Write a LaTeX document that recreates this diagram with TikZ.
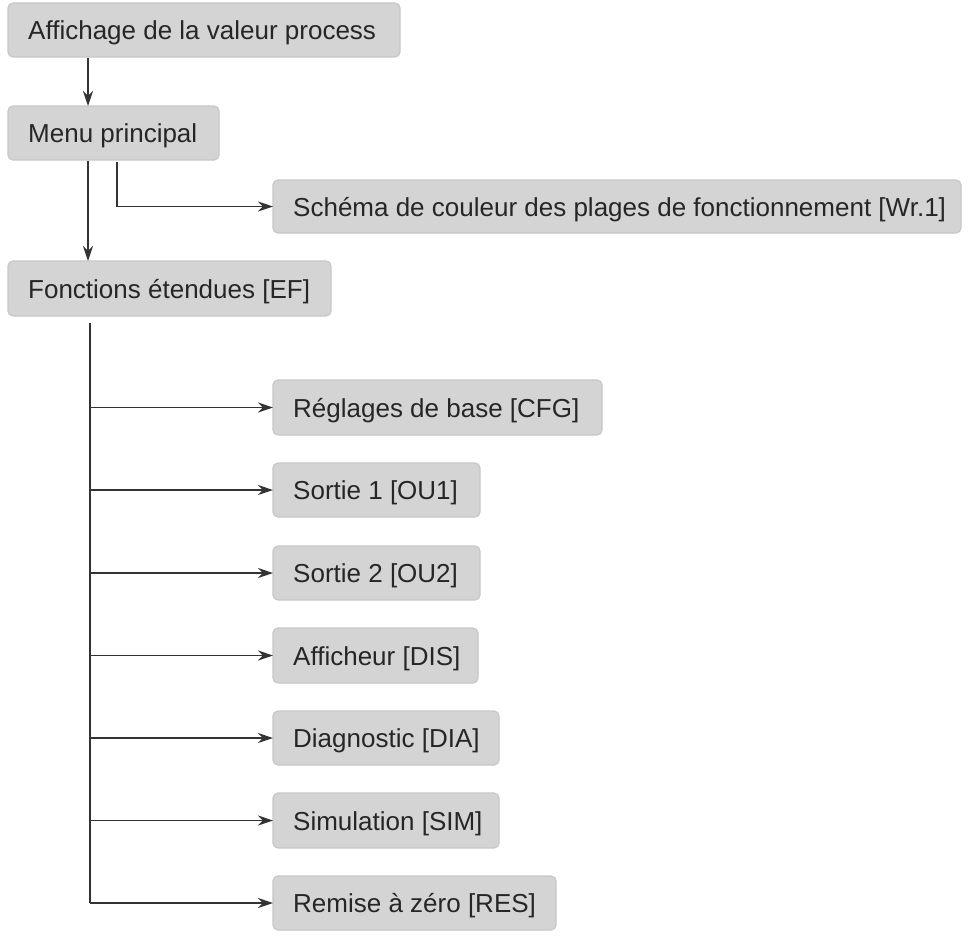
\documentclass[tikz,border=0pt]{standalone}
\usepackage{fontspec}
\setmainfont{Liberation Sans}
\usetikzlibrary{arrows.meta}
\begin{document}
\begin{tikzpicture}[x=1pt,y=-1pt,
  box/.style={draw=black!22,fill=black!17,rounded corners=5pt,line width=1.2pt},
  lbl/.style={anchor=west,inner sep=0pt,font=\fontsize{26}{30}\selectfont,text=black!85},
  arr/.style={line width=1.7pt,black!80,-{Stealth[length=15pt,width=10pt]}}]
\useasboundingbox[fill=white] (0,0) rectangle (976,935);
\newcommand\bx[6]{\draw[box] (#2,#3) rectangle (#4,#5);
  \node[lbl] (#1) at (#2+20,{(#3+#5)/2+3}) {#6};
  \coordinate (#1w) at (#2,{(#3+#5)/2});}
\bx{a}{8}{3}{400}{57}{Affichage de la valeur process}
\bx{m}{8}{106}{219}{160}{Menu principal}
\bx{s}{273}{180}{961}{233}{Schéma de couleur des plages de fonctionnement [Wr.1]}
\bx{f}{8}{261}{331}{316}{Fonctions étendues [EF]}
\bx{b1}{273}{380}{602}{435}{Réglages de base [CFG]}
\bx{b2}{273}{463}{480}{517}{Sortie 1 [OU1]}
\bx{b3}{273}{546}{480}{600}{Sortie 2 [OU2]}
\bx{b4}{273}{628}{478}{683}{Afficheur [DIS]}
\bx{b5}{273}{711}{499}{765}{Diagnostic [DIA]}
\bx{b6}{273}{793}{499}{848}{Simulation [SIM]}
\bx{b7}{273}{876}{556}{930}{Remise à zéro [RES]}
\coordinate (a1) at (88,58); \coordinate (a2) at (88,106);
\coordinate (m1) at (88,161); \coordinate (m2) at (88,261);
\coordinate (m3) at (117,162);
\coordinate (t) at (90,323);
\draw[arr] (a1) -- (a2);
\draw[arr] (m1) -- (m2);
\draw[arr] (m3) |- (sw);
\draw[line width=1.7pt,black!80] (t) -- (90,903);
\foreach \n in {b1,b2,b3,b4,b5,b6,b7}{\draw[arr] (t |- \n w) -- (\n w);}
\end{tikzpicture}
\end{document}
